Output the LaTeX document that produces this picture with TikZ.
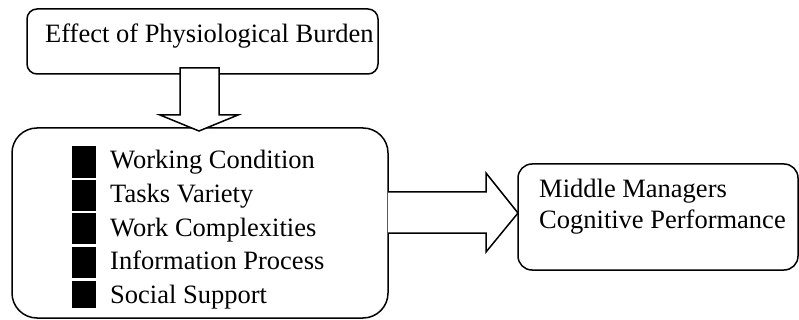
\documentclass[tikz,border=0pt]{standalone}
\usepackage{fontspec}
\setmainfont{Liberation Serif}
\begin{document}
\begin{tikzpicture}[x=1pt,y=-1pt,
  box/.style={draw=black,line width=1.5pt,fill=white,inner sep=0pt},
  lbl/.style={anchor=base west,inner sep=0pt,font=\fontsize{26.5}{30}\selectfont},
  blk/.style={fill=black,draw=none,inner sep=0pt,anchor=north west},
  barrow/.style={draw=black,line width=1.5pt,fill=white,line join=miter}]
\useasboundingbox (0,0) rectangle (799,320);
% boxes
\node[box,rounded corners=10pt,minimum width=351pt,minimum height=65pt] (top) at (202.5,41.5) {};
\node[box,rounded corners=25pt,minimum width=376pt,minimum height=190pt] (mid) at (200,223) {};
\node[box,rounded corners=14pt,minimum width=280pt,minimum height=106pt] (out) at (658,217) {};
% block arrows
\draw[barrow] (180,68) -- (219,68) -- (219,115) -- (238,115) -- (199,131) -- (160,115) -- (180,115) -- cycle;
\draw[barrow] (388,192) -- (486,192) -- (486,173) -- (518,213) -- (486,252) -- (486,233) -- (388,233);
% texts
\node[lbl] (t0) at (45,43) {Effect of Physiological Burden};
\node[blk,minimum width=24pt,minimum height=32pt] (b1) at (72,146) {};
\node[blk,minimum width=24pt,minimum height=31pt] (b2) at (72,180) {};
\node[blk,minimum width=24pt,minimum height=31pt] (b3) at (72,213) {};
\node[blk,minimum width=24pt,minimum height=31pt] (b4) at (72,247) {};
\node[blk,minimum width=24pt,minimum height=27pt] (b5) at (72,281) {};
\node[lbl] (t1) at (110,169) {Working Condition};
\node[lbl] (t2) at (110,202.5) {Tasks Variety};
\node[lbl] (t3) at (110,236) {Work Complexities};
\node[lbl] (t4) at (110,269.5) {Information Process};
\node[lbl] (t5) at (110,303) {Social Support};
\node[lbl] (o1) at (539,198) {Middle Managers};
\node[lbl] (o2) at (539,228) {Cognitive Performance};
\end{tikzpicture}
\end{document}
